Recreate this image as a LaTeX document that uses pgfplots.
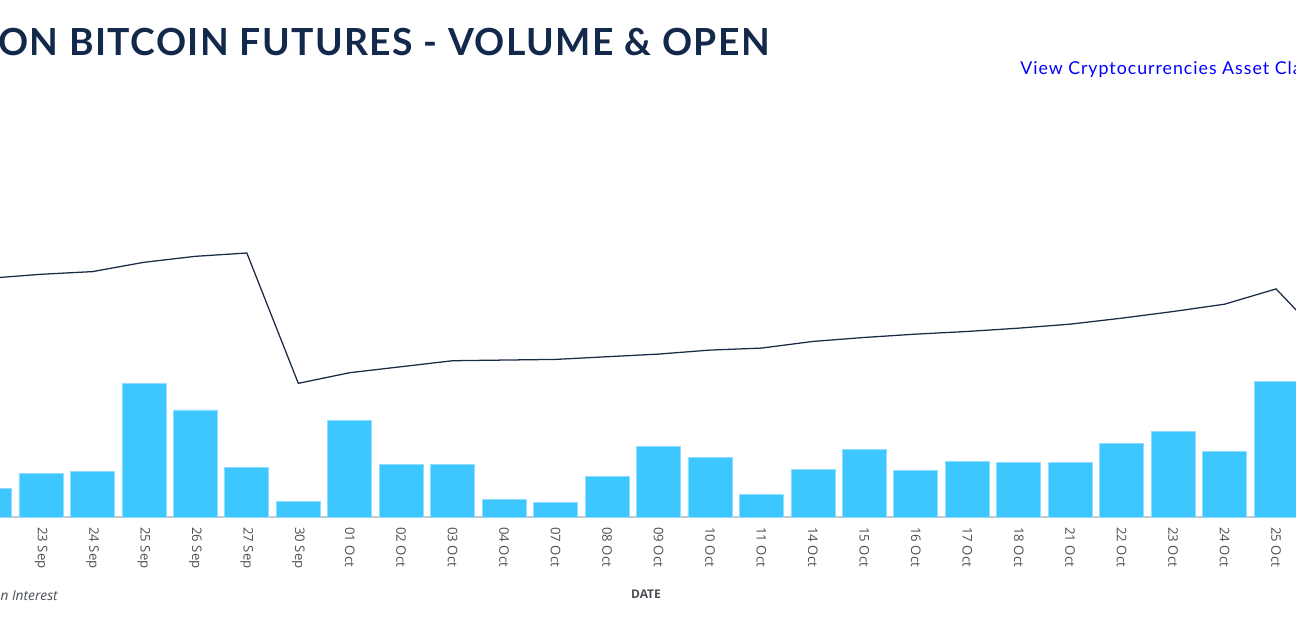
\documentclass[border=0pt]{standalone}
\usepackage{pgfplots}
\pgfplotsset{compat=1.18}
\usepackage{fontspec}
\setmainfont{Open Sans}
\newfontfamily\titlefont{Lato}[LetterSpace=3.9]
\newfontfamily\linkfont{Lato}[LetterSpace=5.6]
\definecolor{barblue}{HTML}{3EC7FF}
\definecolor{baredge}{HTML}{8FDDFF}
\definecolor{navy}{HTML}{1A2B45}
\definecolor{titlenavy}{HTML}{13294B}
\definecolor{tickgray}{HTML}{4A4F56}
\definecolor{gridgray}{HTML}{E9E9E9}
\definecolor{basegray}{HTML}{C8C8C8}
\definecolor{linkblue}{HTML}{0000FF}
\begin{document}
\begin{tikzpicture}
\path[use as bounding box] (0pt,0pt) rectangle (972pt,464.25pt);
\clip (0pt,0pt) rectangle (972pt,464.25pt);
\node[anchor=base east, inner sep=0pt, text=titlenavy, font=\titlefont\bfseries\fontsize{28pt}{32pt}\selectfont] at (577.5pt,422.25pt) {ON BITCOIN FUTURES - VOLUME \& OPEN};
\node[anchor=base west, inner sep=0pt, text=linkblue, font=\linkfont\fontsize{13.3pt}{15pt}\selectfont] at (765pt,408pt) {View Cryptocurrencies Asset Class};
\node[anchor=center, inner sep=0pt, text=tickgray, font=\bfseries\fontsize{9pt}{11pt}\selectfont] at (484.5pt,18.75pt) {DATE};
\node[anchor=base east, inner sep=0pt, text=tickgray, font=\itshape\fontsize{10.3pt}{12pt}\selectfont] at (43.5pt,14.25pt) {Open Interest};
\begin{axis}[
  at={(0pt,76.5pt)}, anchor=south west,
  scale only axis, width=972pt, height=199.5pt,
  xmin=0.2033, xmax=25.388, ymin=0, ymax=4,
  axis y line=none, axis x line*=bottom,
  x axis line style={draw=basegray, line width=1.4pt, -},
  ytick={0,1,2,3,4}, ymajorgrids,
  grid style={draw=gridgray, line width=0.9pt},
  xtick={1,...,25}, major tick length=0pt,
  xticklabels={23 Sep,24 Sep,25 Sep,26 Sep,27 Sep,30 Sep,01 Oct,02 Oct,03 Oct,04 Oct,07 Oct,08 Oct,09 Oct,10 Oct,11 Oct,14 Oct,15 Oct,16 Oct,17 Oct,18 Oct,21 Oct,22 Oct,23 Oct,24 Oct,25 Oct},
  xticklabel style={rotate=-90, anchor=west, inner sep=0pt, text=tickgray, font=\fontsize{9.9pt}{11pt}\selectfont},
  xticklabel shift={7.5pt},
]
\addplot[ybar, bar width=33pt, bar shift=0pt, fill=barblue, draw=baredge, line width=0.6pt] coordinates {
(0,0.43) (1,0.66) (2,0.68) (3,2.01) (4,1.61) (5,0.75) (6,0.23) (7,1.45) (8,0.79) (9,0.79)
(10,0.26) (11,0.22) (12,0.61) (13,1.06) (14,0.89) (15,0.34) (16,0.71) (17,1.02) (18,0.70)
(19,0.84) (20,0.82) (21,0.82) (22,1.11) (23,1.29) (24,0.98) (25,2.04)
};
\addplot[sharp plot, draw=navy, line width=0.95pt, mark=none] coordinates {
(0,3.59) (1,3.65) (2,3.69) (3,3.83) (4,3.92) (5,3.97) (6,2.01) (7,2.17) (8,2.26) (9,2.35)
(10,2.36) (11,2.37) (12,2.41) (13,2.45) (14,2.51) (15,2.54) (16,2.64) (17,2.70) (18,2.75)
(19,2.79) (20,2.84) (21,2.90) (22,2.99) (23,3.09) (24,3.20) (25,3.43) (26,2.62)
};
\end{axis}
\end{tikzpicture}
\end{document}
